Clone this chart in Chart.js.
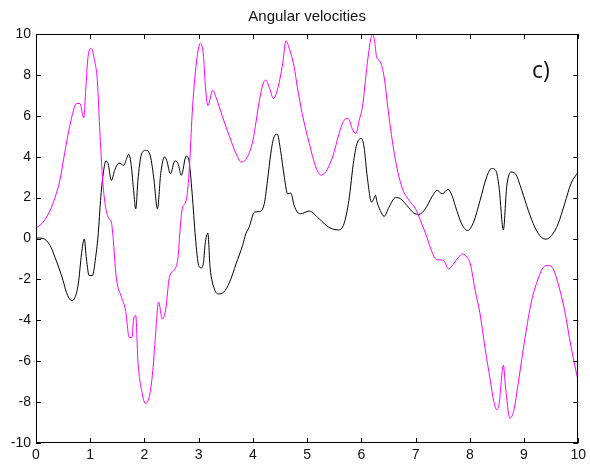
<!DOCTYPE html>
<html>
<head>
<meta charset="utf-8">
<script src="https://cdn.jsdelivr.net/npm/chart.js@4/dist/chart.umd.min.js"></script>
<style>
html,body{margin:0;padding:0;background:#fff;}
#wrap{width:590px;height:465px;position:relative;}
</style>
</head>
<body>
<div id="wrap"><canvas id="c" width="590" height="465"></canvas></div>
<script>
const title = "Angular velocities";
const panelLabel = "c)";
const xTicks = [0,1,2,3,4,5,6,7,8,9,10];
const yTicks = [-10,-8,-6,-4,-2,0,2,4,6,8,10];

const magentaX = [0,0.13,0.26,0.35,0.44,0.53,0.63,0.75,0.81,0.88,0.92,0.96,1.02,1.08,1.13,1.18,1.24,1.33,1.39,1.42,1.48,1.58,1.65,1.72,1.77,1.80,1.84,1.88,1.96,2.02,2.10,2.16,2.21,2.26,2.33,2.39,2.46,2.56,2.62,2.65,2.70,2.77,2.83,2.88,2.95,3.03,3.09,3.12,3.17,3.26,3.32,3.44,3.57,3.69,3.78,3.87,4.00,4.12,4.18,4.24,4.30,4.38,4.45,4.55,4.61,4.67,4.76,4.82,4.91,5.04,5.16,5.25,5.34,5.47,5.59,5.68,5.76,5.83,5.90,5.96,6.02,6.11,6.17,6.21,6.25,6.28,6.35,6.42,6.51,6.63,6.75,6.88,7.00,7.09,7.18,7.27,7.37,7.46,7.52,7.61,7.70,7.79,7.87,7.95,8.01,8.10,8.19,8.28,8.38,8.44,8.50,8.54,8.62,8.66,8.74,8.81,8.90,9.02,9.14,9.26,9.36,9.45,9.54,9.63,9.75,9.87,10.0];
const magentaY = [0.5,0.8,1.37,2.0,2.84,4.2,5.6,6.6,6.6,5.9,7.4,8.9,9.3,8.7,7.75,5.1,2.5,1.04,0.8,0.1,-1.9,-2.9,-3.5,-4.84,-4.84,-3.94,-3.77,-6.0,-7.6,-8.07,-7.6,-6.3,-4.5,-3.1,-3.94,-3.5,-1.9,-1.5,-0.9,0.2,1.5,1.86,3.5,6.1,8.4,9.55,8.9,7.6,6.5,7.25,6.9,5.95,4.97,4.15,3.74,3.86,4.8,6.76,7.5,7.75,7.4,6.85,7.25,8.56,9.67,9.3,8.4,7.4,6.1,4.64,3.5,3.1,3.25,3.99,5.13,5.78,5.87,5.38,5.13,5.78,6.44,8.56,9.7,10.0,9.55,8.9,8.64,7.9,5.95,3.82,2.5,1.86,1.45,0.88,0.28,-0.42,-1.0,-1.05,-1.08,-1.49,-1.24,-0.92,-0.75,-0.92,-1.24,-2.55,-3.69,-5.33,-6.96,-7.94,-8.38,-8.1,-6.2,-7.3,-8.79,-8.43,-6.96,-4.84,-3.04,-1.98,-1.4,-1.32,-1.49,-2.22,-3.53,-5.33,-7.0];

const blackX = [0,0.13,0.26,0.35,0.43,0.50,0.56,0.66,0.72,0.78,0.84,0.89,0.93,0.98,1.04,1.10,1.15,1.19,1.24,1.29,1.33,1.39,1.45,1.53,1.62,1.67,1.71,1.76,1.80,1.84,1.88,1.94,2.02,2.10,2.17,2.24,2.30,2.37,2.41,2.48,2.56,2.62,2.68,2.77,2.82,2.88,2.94,3.00,3.05,3.09,3.12,3.17,3.21,3.29,3.37,3.46,3.57,3.69,3.81,3.87,3.93,4.03,4.12,4.21,4.27,4.33,4.39,4.45,4.51,4.58,4.64,4.70,4.76,4.82,4.88,5.04,5.22,5.40,5.58,5.68,5.77,5.86,5.92,6.00,6.05,6.11,6.19,6.23,6.26,6.29,6.35,6.42,6.51,6.63,6.72,6.84,6.97,7.06,7.18,7.30,7.40,7.49,7.60,7.67,7.76,7.85,7.96,8.07,8.19,8.31,8.40,8.48,8.54,8.62,8.68,8.76,8.84,8.96,9.08,9.20,9.32,9.41,9.51,9.63,9.75,9.87,10.0];
const blackY = [0.03,0,-0.34,-0.92,-1.49,-2.06,-2.63,-3.04,-2.88,-2.22,-0.75,-0.02,-1.0,-1.81,-1.81,-0.92,0.3,1.86,3.17,3.79,3.66,2.84,3.33,3.69,3.58,3.9,4.12,3.5,2.35,1.45,2.84,4.07,4.31,4.12,3.0,1.45,3.17,3.99,3.82,3.17,3.79,3.66,3.09,4.03,3.82,2.19,0.06,-1.32,-1.44,-1.16,-0.26,0.26,-1.4,-2.47,-2.71,-2.63,-2.14,-1.24,-0.34,0.23,0.55,1.29,1.32,1.7,2.84,4.15,4.97,5.1,4.31,3.0,2.19,2.22,1.62,1.29,1.21,1.34,0.97,0.55,0.42,0.72,1.86,3.82,4.64,4.89,4.48,3.0,1.78,1.95,2.11,1.78,1.37,1.08,1.53,2.0,1.95,1.62,1.24,1.18,1.45,2.03,2.35,2.19,2.4,2.11,1.37,0.72,0.39,0.8,1.86,3.0,3.42,3.33,2.51,0.42,2.51,3.25,3.17,2.35,1.37,0.55,0.06,-0.03,0.15,0.72,1.7,2.71,3.25];

function pts(xs, ys){ return xs.map((x,i)=>({x:x, y:ys[i]})); }

const FONT = "'Liberation Sans', Arial, sans-serif";

const boxTicks = {
  id: 'boxTicks',
  afterDatasetsDraw(chart){
    const {ctx, chartArea:a, scales} = chart;
    ctx.save();
    ctx.strokeStyle = '#000';
    ctx.lineWidth = 1;
    ctx.strokeRect(Math.round(a.left)+0.5, Math.round(a.top)+0.5, Math.round(a.right-a.left)-1, Math.round(a.bottom-a.top)-1);
    const L = 5;
    ctx.beginPath();
    xTicks.forEach(v=>{
      const px = Math.round(scales.x.getPixelForValue(v))+0.5;
      ctx.moveTo(px, a.bottom); ctx.lineTo(px, a.bottom-L);
      ctx.moveTo(px, a.top); ctx.lineTo(px, a.top+L);
    });
    yTicks.forEach(v=>{
      const py = Math.round(scales.y.getPixelForValue(v))+0.5;
      ctx.moveTo(a.left, py); ctx.lineTo(a.left+L, py);
      ctx.moveTo(a.right, py); ctx.lineTo(a.right-L, py);
    });
    ctx.stroke();
    ctx.fillStyle = '#111';
    ctx.textBaseline = 'alphabetic';
    ctx.textAlign = 'center';
    ctx.font = "15px " + FONT;
    ctx.fillText(title, (a.left + a.right)/2, 21);
    ctx.textAlign = 'left';
    ctx.font = "23px 'Open Sans', sans-serif";
    ctx.fillText(panelLabel, 532, 78);
    ctx.restore();
  }
};

new Chart(document.getElementById('c'), {
  type: 'scatter',
  data: {
    datasets: [
      {label:'w2', data: pts(magentaX, magentaY), showLine:true, borderColor:'#ff00ff', borderWidth:1, pointRadius:0, cubicInterpolationMode:'monotone', fill:false},
      {label:'w1', data: pts(blackX, blackY), showLine:true, borderColor:'#000000', borderWidth:1, pointRadius:0, cubicInterpolationMode:'monotone', fill:false}
    ]
  },
  options: {
    responsive:false,
    animation:false,
    devicePixelRatio:1,
    layout:{padding:{left:0,right:8,top:34,bottom:0}},
    plugins:{
      legend:{display:false},
      tooltip:{enabled:false},
      title:{display:false}
    },
    scales:{
      x:{type:'linear', min:0, max:10,
        grid:{display:false, drawTicks:false},
        border:{display:false},
        ticks:{stepSize:1, color:'#111', font:{family:FONT,size:14}, padding:4, maxRotation:0},
        afterFit(s){ s.height = 22; }
      },
      y:{type:'linear', min:-10, max:10,
        grid:{display:false, drawTicks:false},
        border:{display:false},
        ticks:{stepSize:2, color:'#111', font:{family:FONT,size:14}, padding:5},
        afterFit(s){ s.width = 36; }
      }
    }
  },
  plugins:[boxTicks]
});
</script>
</body>
</html>
